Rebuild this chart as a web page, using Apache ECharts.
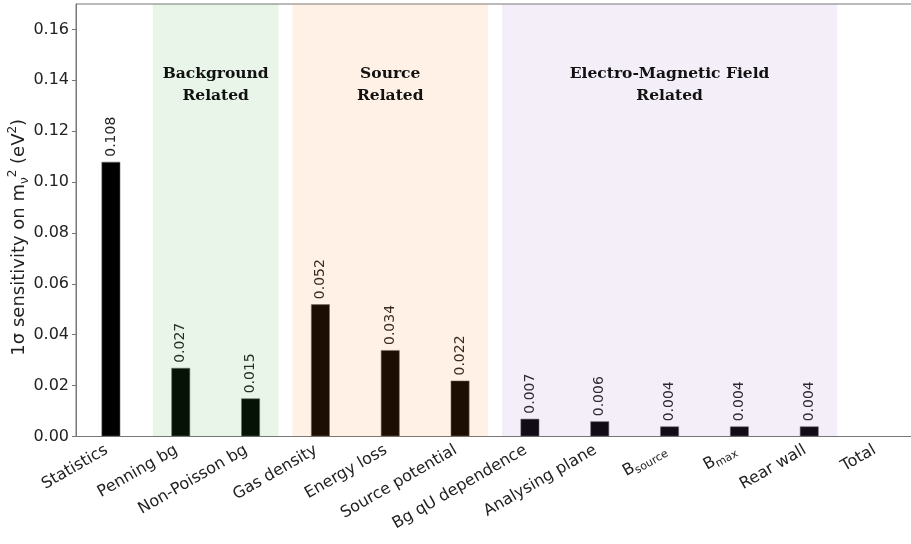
<!DOCTYPE html>
<html>
<head>
<meta charset="utf-8">
<script src="https://cdn.jsdelivr.net/npm/echarts@6/dist/echarts.min.js"></script>
<style>
  html, body { margin: 0; padding: 0; background: #fff; }
  #chart { width: 911px; height: 544px; }
</style>
</head>
<body>
<div id="chart"></div>
<script>
// Systematic contributions to the 1σ sensitivity on the neutrino mass squared
const categories = [
  'Statistics', 'Penning bg', 'Non-Poisson bg', 'Gas density', 'Energy loss',
  'Source potential', 'Bg qU dependence', 'Analysing plane', 'B_source', 'B_max',
  'Rear wall', 'Total'
];
const sensitivity = [0.108, 0.027, 0.015, 0.052, 0.034, 0.022, 0.007, 0.006, 0.004, 0.004, 0.004, null];
const yTicks = [0.00, 0.02, 0.04, 0.06, 0.08, 0.10, 0.12, 0.14, 0.16];

// Category groups: first and last category index covered by each shaded band
const groupNames = ['Background\nRelated', 'Source\nRelated', 'Electro-Magnetic Field\nRelated'];
const groupFirst = [1, 3, 6];
const groupLast = [2, 5, 10];
const groupColors = ['rgba(44,160,44,0.11)', 'rgba(255,127,14,0.11)', 'rgba(148,103,189,0.11)'];

const Y_MAX = 0.17;
const BAND_PAD = 0.4;
const GROUP_LABEL_Y = 0.138;

const bandData = groupFirst.map((f, i) => [f - BAND_PAD, groupLast[i] + BAND_PAD]);

function tickLabel(name) {
  const m = name.match(/^B_(.+)$/);
  return m ? '{n|B}{s|' + m[1] + '}' : name;
}

const chart = echarts.init(document.getElementById('chart'));
const axisColor = '#777';
const textColor = '#222';
const font = 'DejaVu Sans';

chart.setOption({
  animation: false,
  grid: {
    left: 76, top: 4, width: 838, height: 432.5,
    containLabel: false, outerBoundsMode: 'none',
    show: true, borderColor: axisColor, borderWidth: 1, backgroundColor: 'transparent'
  },
  xAxis: [{
    type: 'category',
    data: categories,
    axisLine: { onZero: false, lineStyle: { color: axisColor } },
    axisTick: { alignWithLabel: true, length: 4, lineStyle: { color: axisColor } },
    axisLabel: {
      interval: 0, rotate: 30, fontSize: 16, fontFamily: font, color: textColor, margin: 10,
      padding: [0, 5, 0, 0],
      formatter: tickLabel,
      rich: {
        n: { fontSize: 16, fontFamily: font, color: textColor, lineHeight: 20 },
        s: { fontSize: 11, fontFamily: font, color: textColor, verticalAlign: 'bottom' }
      }
    }
  }, {
    type: 'value', min: -0.5, max: 11.5, show: false
  }],
  yAxis: {
    type: 'value', min: 0, max: Y_MAX, interval: 0.02,
    splitLine: { show: false },
    axisLine: { show: true, onZero: false, lineStyle: { color: axisColor } },
    axisTick: { show: true, length: 4, lineStyle: { color: axisColor } },
    axisLabel: {
      fontSize: 16, fontFamily: font, color: textColor, margin: 7, showMaxLabel: false,
      formatter: v => yTicks.some(t => Math.abs(t - v) < 1e-9) ? v.toFixed(2) : ''
    },
    name: '{t|1σ sensitivity on m}{b|ν}{p|2}{t| (eV}{p|2}{t|)}',
    nameLocation: 'middle',
    nameGap: 45,
    nameMoveOverlap: false,
    nameTextStyle: {
      padding: [0, 34, 0, 0],
      rich: {
        t: { fontSize: 18, fontFamily: font, color: textColor, lineHeight: 24 },
        p: { fontSize: 12, fontFamily: font, color: textColor, verticalAlign: 'top' },
        b: { fontSize: 12, fontFamily: font, color: textColor, verticalAlign: 'bottom' }
      }
    }
  },
  series: [{
    type: 'bar',
    data: sensitivity,
    barWidth: 19,
    z: 2,
    itemStyle: { color: '#000', borderColor: 'rgba(110,110,110,0.7)', borderWidth: 0.8 },
    label: {
      show: true, position: 'top', rotate: 90, distance: 5,
      align: 'left', verticalAlign: 'middle',
      fontSize: 14, fontFamily: font, color: textColor,
      formatter: p => p.value == null ? '' : p.value.toFixed(3)
    }
  }, {
    type: 'custom',
    xAxisIndex: 1,
    z: 3,
    silent: true,
    data: bandData,
    encode: { x: [0, 1] },
    renderItem: function (params, api) {
      const i = params.dataIndex;
      const cs = params.coordSys;
      const x0 = api.coord([api.value(0), 0])[0];
      const x1 = api.coord([api.value(1), 0])[0];
      const ty = api.coord([0, GROUP_LABEL_Y])[1];
      return {
        type: 'group',
        children: [{
          type: 'rect',
          shape: { x: x0, y: cs.y, width: x1 - x0, height: cs.height },
          style: { fill: groupColors[i] }
        }, {
          type: 'text',
          style: {
            text: groupNames[i], x: (x0 + x1) / 2, y: ty,
            align: 'center', verticalAlign: 'middle',
            font: 'bold 15.5px "DejaVu Serif"', lineHeight: 22, fill: '#111'
          }
        }]
      };
    }
  }]
});
</script>
</body>
</html>
